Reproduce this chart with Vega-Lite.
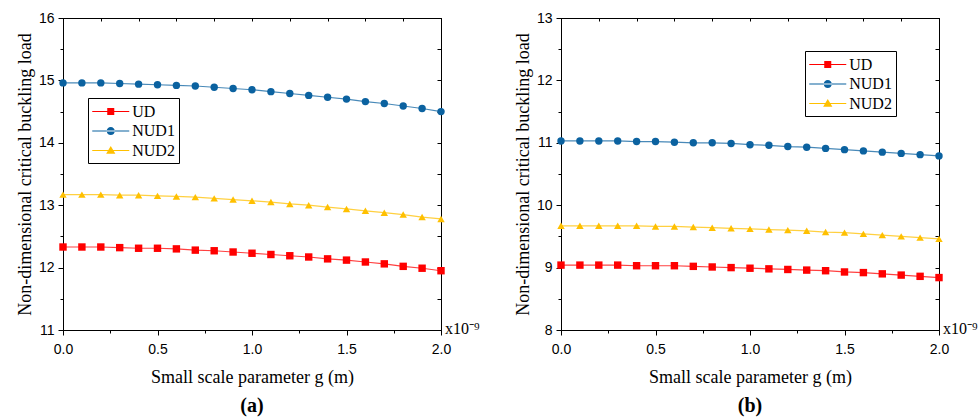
{
  "$schema": "https://vega.github.io/schema/vega-lite/v6.json",
  "background": "white",
  "padding": {"left": 15, "top": 10, "right": 0, "bottom": 5},
  "config": {
    "view": {"stroke": "black", "strokeWidth": 1},
    "axis": {"labelFont": "Liberation Sans", "labelFontSize": 14, "labelColor": "black", "titleFont": "Liberation Serif", "titleFontSize": 18, "titleFontWeight": "normal", "titleColor": "black", "domainColor": "black", "tickColor": "black", "grid": false},
    "legend": {"labelFont": "Liberation Serif", "labelFontSize": 16, "labelColor": "black"},
    "title": {"font": "Liberation Serif", "fontSize": 20, "fontWeight": "bold", "color": "black"}
  },
  "datasets": {
    "a": [
      {"g": 0.0, "v": 12.33, "s": "UD"}, {"g": 0.1, "v": 12.33, "s": "UD"}, {"g": 0.2, "v": 12.33, "s": "UD"}, {"g": 0.3, "v": 12.32, "s": "UD"}, {"g": 0.4, "v": 12.31, "s": "UD"}, {"g": 0.5, "v": 12.31, "s": "UD"}, {"g": 0.6, "v": 12.30, "s": "UD"}, {"g": 0.7, "v": 12.28, "s": "UD"}, {"g": 0.8, "v": 12.27, "s": "UD"}, {"g": 0.9, "v": 12.25, "s": "UD"}, {"g": 1.0, "v": 12.23, "s": "UD"}, {"g": 1.1, "v": 12.21, "s": "UD"}, {"g": 1.2, "v": 12.19, "s": "UD"}, {"g": 1.3, "v": 12.17, "s": "UD"}, {"g": 1.4, "v": 12.14, "s": "UD"}, {"g": 1.5, "v": 12.12, "s": "UD"}, {"g": 1.6, "v": 12.09, "s": "UD"}, {"g": 1.7, "v": 12.06, "s": "UD"}, {"g": 1.8, "v": 12.02, "s": "UD"}, {"g": 1.9, "v": 11.99, "s": "UD"}, {"g": 2.0, "v": 11.95, "s": "UD"},
      {"g": 0.0, "v": 14.96, "s": "NUD1"}, {"g": 0.1, "v": 14.96, "s": "NUD1"}, {"g": 0.2, "v": 14.96, "s": "NUD1"}, {"g": 0.3, "v": 14.95, "s": "NUD1"}, {"g": 0.4, "v": 14.94, "s": "NUD1"}, {"g": 0.5, "v": 14.93, "s": "NUD1"}, {"g": 0.6, "v": 14.92, "s": "NUD1"}, {"g": 0.7, "v": 14.91, "s": "NUD1"}, {"g": 0.8, "v": 14.89, "s": "NUD1"}, {"g": 0.9, "v": 14.87, "s": "NUD1"}, {"g": 1.0, "v": 14.85, "s": "NUD1"}, {"g": 1.1, "v": 14.82, "s": "NUD1"}, {"g": 1.2, "v": 14.79, "s": "NUD1"}, {"g": 1.3, "v": 14.76, "s": "NUD1"}, {"g": 1.4, "v": 14.73, "s": "NUD1"}, {"g": 1.5, "v": 14.70, "s": "NUD1"}, {"g": 1.6, "v": 14.66, "s": "NUD1"}, {"g": 1.7, "v": 14.63, "s": "NUD1"}, {"g": 1.8, "v": 14.59, "s": "NUD1"}, {"g": 1.9, "v": 14.55, "s": "NUD1"}, {"g": 2.0, "v": 14.50, "s": "NUD1"},
      {"g": 0.0, "v": 13.17, "s": "NUD2"}, {"g": 0.1, "v": 13.17, "s": "NUD2"}, {"g": 0.2, "v": 13.17, "s": "NUD2"}, {"g": 0.3, "v": 13.16, "s": "NUD2"}, {"g": 0.4, "v": 13.16, "s": "NUD2"}, {"g": 0.5, "v": 13.15, "s": "NUD2"}, {"g": 0.6, "v": 13.14, "s": "NUD2"}, {"g": 0.7, "v": 13.13, "s": "NUD2"}, {"g": 0.8, "v": 13.11, "s": "NUD2"}, {"g": 0.9, "v": 13.09, "s": "NUD2"}, {"g": 1.0, "v": 13.07, "s": "NUD2"}, {"g": 1.1, "v": 13.05, "s": "NUD2"}, {"g": 1.2, "v": 13.02, "s": "NUD2"}, {"g": 1.3, "v": 13.00, "s": "NUD2"}, {"g": 1.4, "v": 12.97, "s": "NUD2"}, {"g": 1.5, "v": 12.94, "s": "NUD2"}, {"g": 1.6, "v": 12.91, "s": "NUD2"}, {"g": 1.7, "v": 12.88, "s": "NUD2"}, {"g": 1.8, "v": 12.85, "s": "NUD2"}, {"g": 1.9, "v": 12.81, "s": "NUD2"}, {"g": 2.0, "v": 12.78, "s": "NUD2"}
    ],
    "b": [
      {"g": 0.0, "v": 9.04, "s": "UD"}, {"g": 0.1, "v": 9.04, "s": "UD"}, {"g": 0.2, "v": 9.04, "s": "UD"}, {"g": 0.3, "v": 9.04, "s": "UD"}, {"g": 0.4, "v": 9.03, "s": "UD"}, {"g": 0.5, "v": 9.03, "s": "UD"}, {"g": 0.6, "v": 9.03, "s": "UD"}, {"g": 0.7, "v": 9.02, "s": "UD"}, {"g": 0.8, "v": 9.01, "s": "UD"}, {"g": 0.9, "v": 9.00, "s": "UD"}, {"g": 1.0, "v": 8.99, "s": "UD"}, {"g": 1.1, "v": 8.98, "s": "UD"}, {"g": 1.2, "v": 8.97, "s": "UD"}, {"g": 1.3, "v": 8.96, "s": "UD"}, {"g": 1.4, "v": 8.95, "s": "UD"}, {"g": 1.5, "v": 8.93, "s": "UD"}, {"g": 1.6, "v": 8.92, "s": "UD"}, {"g": 1.7, "v": 8.90, "s": "UD"}, {"g": 1.8, "v": 8.88, "s": "UD"}, {"g": 1.9, "v": 8.86, "s": "UD"}, {"g": 2.0, "v": 8.84, "s": "UD"},
      {"g": 0.0, "v": 11.03, "s": "NUD1"}, {"g": 0.1, "v": 11.03, "s": "NUD1"}, {"g": 0.2, "v": 11.03, "s": "NUD1"}, {"g": 0.3, "v": 11.03, "s": "NUD1"}, {"g": 0.4, "v": 11.02, "s": "NUD1"}, {"g": 0.5, "v": 11.02, "s": "NUD1"}, {"g": 0.6, "v": 11.01, "s": "NUD1"}, {"g": 0.7, "v": 11.00, "s": "NUD1"}, {"g": 0.8, "v": 11.00, "s": "NUD1"}, {"g": 0.9, "v": 10.99, "s": "NUD1"}, {"g": 1.0, "v": 10.97, "s": "NUD1"}, {"g": 1.1, "v": 10.96, "s": "NUD1"}, {"g": 1.2, "v": 10.94, "s": "NUD1"}, {"g": 1.3, "v": 10.93, "s": "NUD1"}, {"g": 1.4, "v": 10.91, "s": "NUD1"}, {"g": 1.5, "v": 10.89, "s": "NUD1"}, {"g": 1.6, "v": 10.87, "s": "NUD1"}, {"g": 1.7, "v": 10.85, "s": "NUD1"}, {"g": 1.8, "v": 10.83, "s": "NUD1"}, {"g": 1.9, "v": 10.81, "s": "NUD1"}, {"g": 2.0, "v": 10.79, "s": "NUD1"},
      {"g": 0.0, "v": 9.67, "s": "NUD2"}, {"g": 0.1, "v": 9.67, "s": "NUD2"}, {"g": 0.2, "v": 9.67, "s": "NUD2"}, {"g": 0.3, "v": 9.67, "s": "NUD2"}, {"g": 0.4, "v": 9.67, "s": "NUD2"}, {"g": 0.5, "v": 9.66, "s": "NUD2"}, {"g": 0.6, "v": 9.66, "s": "NUD2"}, {"g": 0.7, "v": 9.65, "s": "NUD2"}, {"g": 0.8, "v": 9.64, "s": "NUD2"}, {"g": 0.9, "v": 9.63, "s": "NUD2"}, {"g": 1.0, "v": 9.62, "s": "NUD2"}, {"g": 1.1, "v": 9.61, "s": "NUD2"}, {"g": 1.2, "v": 9.60, "s": "NUD2"}, {"g": 1.3, "v": 9.59, "s": "NUD2"}, {"g": 1.4, "v": 9.57, "s": "NUD2"}, {"g": 1.5, "v": 9.56, "s": "NUD2"}, {"g": 1.6, "v": 9.54, "s": "NUD2"}, {"g": 1.7, "v": 9.52, "s": "NUD2"}, {"g": 1.8, "v": 9.50, "s": "NUD2"}, {"g": 1.9, "v": 9.48, "s": "NUD2"}, {"g": 2.0, "v": 9.46, "s": "NUD2"}
    ],
    "ma": [{"g": 2.0, "v": 11, "t": "x10⁻⁹"}],
    "mb": [{"g": 2.0, "v": 8, "t": "x10⁻⁹"}]
  },
  "bounds": "flush",
  "spacing": 120,
  "hconcat": [
    {
      "width": 378, "height": 312,
      "title": {"text": "(a)", "orient": "bottom", "offset": 10},
      "resolve": {"scale": {"color": "independent", "shape": "independent"}, "axis": {"x": "independent", "y": "independent"}},
      "layer": [
        {
          "data": {"name": "a"},
          "mark": {"type": "line", "strokeWidth": 1.2, "opacity": 0.75},
          "encoding": {
            "x": {"field": "g", "type": "quantitative", "scale": {"domain": [0, 2], "nice": false, "zero": false},
              "axis": {"orient": "bottom", "title": "Small scale parameter g (m)", "values": [0, 0.25, 0.5, 0.75, 1, 1.25, 1.5, 1.75, 2], "labelExpr": "abs(datum.value*2 - round(datum.value*2)) < 1e-6 ? format(datum.value, '.1f') : ''", "tickSize": {"condition": {"test": "abs(datum.value*2 - round(datum.value*2)) < 1e-6", "value": 5}, "value": 3}, "labelPadding": 7, "titlePadding": 12, "labelFlush": false}},
            "y": {"field": "v", "type": "quantitative", "scale": {"domain": [11, 16], "nice": false, "zero": false},
              "axis": {"orient": "left", "title": "Non-dimensional critical buckling load", "values": [11, 11.5, 12, 12.5, 13, 13.5, 14, 14.5, 15, 15.5, 16], "labelExpr": "datum.value % 1 === 0 ? format(datum.value, 'd') : ''", "tickSize": {"condition": {"test": "datum.value % 1 === 0", "value": 5}, "value": 3}, "labelPadding": 4, "titlePadding": 4}},
            "color": {"field": "s", "type": "nominal", "scale": {"domain": ["UD", "NUD1", "NUD2"], "range": ["#ff0000", "#0b62a0", "#ffc000"]}, "legend": null},
            "detail": {"field": "s"}
          }
        },
        {
          "data": {"name": "a"},
          "mark": {"type": "point", "filled": true, "opacity": 1, "size": 55},
          "encoding": {
            "x": {"field": "g", "type": "quantitative", "scale": {"domain": [0, 2], "nice": false, "zero": false},
              "axis": {"orient": "top", "title": null, "labels": false, "values": [0, 0.2, 0.4, 0.6, 0.8, 1, 1.2, 1.4, 1.6, 1.8, 2], "tickSize": -3}},
            "y": {"field": "v", "type": "quantitative", "scale": {"domain": [11, 16], "nice": false, "zero": false},
              "axis": {"orient": "right", "title": null, "labels": false, "values": [11, 11.5, 12, 12.5, 13, 13.5, 14, 14.5, 15, 15.5, 16], "tickSize": -4}},
            "color": {"field": "s", "type": "nominal", "scale": {"domain": ["UD", "NUD1", "NUD2"], "range": ["#ff0000", "#0b62a0", "#ffc000"]}, "legend": null},
            "shape": {"field": "s", "type": "nominal", "scale": {"domain": ["UD", "NUD1", "NUD2"], "range": ["square", "circle", "triangle-up"]}, "legend": null}
          }
        },
        {
          "data": {"name": "a"},
          "mark": {"type": "point", "filled": true, "opacity": 0},
          "encoding": {
            "x": {"field": "g", "type": "quantitative", "axis": null},
            "y": {"field": "v", "type": "quantitative", "axis": null},
            "color": {"field": "s", "type": "nominal", "scale": {"domain": ["UD", "NUD1", "NUD2"], "range": ["#ff0000", "#0b62a0", "#ffc000"]},
              "legend": {"title": null, "orient": "none", "legendX": 25, "legendY": 80, "symbolSize": 342.25, "symbolOffset": 9.25, "symbolOpacity": 1, "symbolStrokeWidth": 0, "strokeColor": "black", "fillColor": "white", "padding": 4, "rowPadding": 1.5, "labelOffset": 12, "labelFont": "Liberation Serif", "labelFontSize": 16}},
            "shape": {"field": "s", "type": "nominal", "scale": {"domain": ["UD", "NUD1", "NUD2"], "range": [
              "M-2,-0.06 L2,-0.06 L2,0.06 L-2,0.06 Z M-0.38,-0.38 L0.38,-0.38 L0.38,0.38 L-0.38,0.38 Z",
              "M-2,-0.06 L2,-0.06 L2,0.06 L-2,0.06 Z M-0.44,0 A0.44,0.44 0 1,0 0.44,0 A0.44,0.44 0 1,0 -0.44,0 Z",
              "M-2,-0.06 L2,-0.06 L2,0.06 L-2,0.06 Z M0,-0.5 L0.5,0.36 L-0.5,0.36 Z"]},
              "legend": {"title": null, "orient": "none", "legendX": 25, "legendY": 80, "symbolSize": 342.25, "symbolOffset": 9.25, "symbolOpacity": 1, "symbolStrokeWidth": 0, "strokeColor": "black", "fillColor": "white", "padding": 4, "rowPadding": 1.5, "labelOffset": 12, "labelFont": "Liberation Serif", "labelFontSize": 16}}
          }
        },
        {
          "data": {"name": "ma"},
          "mark": {"type": "text", "align": "left", "baseline": "alphabetic", "dx": 4, "dy": 4, "font": "Liberation Serif", "fontSize": 16, "color": "black"},
          "encoding": {
            "x": {"field": "g", "type": "quantitative", "axis": null},
            "y": {"field": "v", "type": "quantitative", "axis": null},
            "text": {"field": "t"}
          }
        }
      ]
    },
    {
      "width": 378, "height": 312,
      "title": {"text": "(b)", "orient": "bottom", "offset": 10},
      "resolve": {"scale": {"color": "independent", "shape": "independent"}, "axis": {"x": "independent", "y": "independent"}},
      "layer": [
        {
          "data": {"name": "b"},
          "mark": {"type": "line", "strokeWidth": 1.2, "opacity": 0.75},
          "encoding": {
            "x": {"field": "g", "type": "quantitative", "scale": {"domain": [0, 2], "nice": false, "zero": false},
              "axis": {"orient": "bottom", "title": "Small scale parameter g (m)", "values": [0, 0.25, 0.5, 0.75, 1, 1.25, 1.5, 1.75, 2], "labelExpr": "abs(datum.value*2 - round(datum.value*2)) < 1e-6 ? format(datum.value, '.1f') : ''", "tickSize": {"condition": {"test": "abs(datum.value*2 - round(datum.value*2)) < 1e-6", "value": 5}, "value": 3}, "labelPadding": 7, "titlePadding": 12, "labelFlush": false}},
            "y": {"field": "v", "type": "quantitative", "scale": {"domain": [8, 13], "nice": false, "zero": false},
              "axis": {"orient": "left", "title": "Non-dimensional critical buckling load", "values": [8, 8.5, 9, 9.5, 10, 10.5, 11, 11.5, 12, 12.5, 13], "labelExpr": "datum.value % 1 === 0 ? format(datum.value, 'd') : ''", "tickSize": {"condition": {"test": "datum.value % 1 === 0", "value": 5}, "value": 3}, "labelPadding": 4, "titlePadding": 4}},
            "color": {"field": "s", "type": "nominal", "scale": {"domain": ["UD", "NUD1", "NUD2"], "range": ["#ff0000", "#0b62a0", "#ffc000"]}, "legend": null},
            "detail": {"field": "s"}
          }
        },
        {
          "data": {"name": "b"},
          "mark": {"type": "point", "filled": true, "opacity": 1, "size": 55},
          "encoding": {
            "x": {"field": "g", "type": "quantitative", "scale": {"domain": [0, 2], "nice": false, "zero": false},
              "axis": {"orient": "top", "title": null, "labels": false, "values": [0, 0.2, 0.4, 0.6, 0.8, 1, 1.2, 1.4, 1.6, 1.8, 2], "tickSize": -3}},
            "y": {"field": "v", "type": "quantitative", "scale": {"domain": [8, 13], "nice": false, "zero": false},
              "axis": {"orient": "right", "title": null, "labels": false, "values": [8, 8.5, 9, 9.5, 10, 10.5, 11, 11.5, 12, 12.5, 13], "tickSize": -4}},
            "color": {"field": "s", "type": "nominal", "scale": {"domain": ["UD", "NUD1", "NUD2"], "range": ["#ff0000", "#0b62a0", "#ffc000"]}, "legend": null},
            "shape": {"field": "s", "type": "nominal", "scale": {"domain": ["UD", "NUD1", "NUD2"], "range": ["square", "circle", "triangle-up"]}, "legend": null}
          }
        },
        {
          "data": {"name": "b"},
          "mark": {"type": "point", "filled": true, "opacity": 0},
          "encoding": {
            "x": {"field": "g", "type": "quantitative", "axis": null},
            "y": {"field": "v", "type": "quantitative", "axis": null},
            "color": {"field": "s", "type": "nominal", "scale": {"domain": ["UD", "NUD1", "NUD2"], "range": ["#ff0000", "#0b62a0", "#ffc000"]},
              "legend": {"title": null, "orient": "none", "legendX": 244, "legendY": 33, "symbolSize": 342.25, "symbolOffset": 9.25, "symbolOpacity": 1, "symbolStrokeWidth": 0, "strokeColor": "black", "fillColor": "white", "padding": 4, "rowPadding": 1.5, "labelOffset": 12, "labelFont": "Liberation Serif", "labelFontSize": 16}},
            "shape": {"field": "s", "type": "nominal", "scale": {"domain": ["UD", "NUD1", "NUD2"], "range": [
              "M-2,-0.06 L2,-0.06 L2,0.06 L-2,0.06 Z M-0.38,-0.38 L0.38,-0.38 L0.38,0.38 L-0.38,0.38 Z",
              "M-2,-0.06 L2,-0.06 L2,0.06 L-2,0.06 Z M-0.44,0 A0.44,0.44 0 1,0 0.44,0 A0.44,0.44 0 1,0 -0.44,0 Z",
              "M-2,-0.06 L2,-0.06 L2,0.06 L-2,0.06 Z M0,-0.5 L0.5,0.36 L-0.5,0.36 Z"]},
              "legend": {"title": null, "orient": "none", "legendX": 244, "legendY": 33, "symbolSize": 342.25, "symbolOffset": 9.25, "symbolOpacity": 1, "symbolStrokeWidth": 0, "strokeColor": "black", "fillColor": "white", "padding": 4, "rowPadding": 1.5, "labelOffset": 12, "labelFont": "Liberation Serif", "labelFontSize": 16}}
          }
        },
        {
          "data": {"name": "mb"},
          "mark": {"type": "text", "align": "left", "baseline": "alphabetic", "dx": 4, "dy": 4, "font": "Liberation Serif", "fontSize": 16, "color": "black"},
          "encoding": {
            "x": {"field": "g", "type": "quantitative", "axis": null},
            "y": {"field": "v", "type": "quantitative", "axis": null},
            "text": {"field": "t"}
          }
        }
      ]
    }
  ]
}
